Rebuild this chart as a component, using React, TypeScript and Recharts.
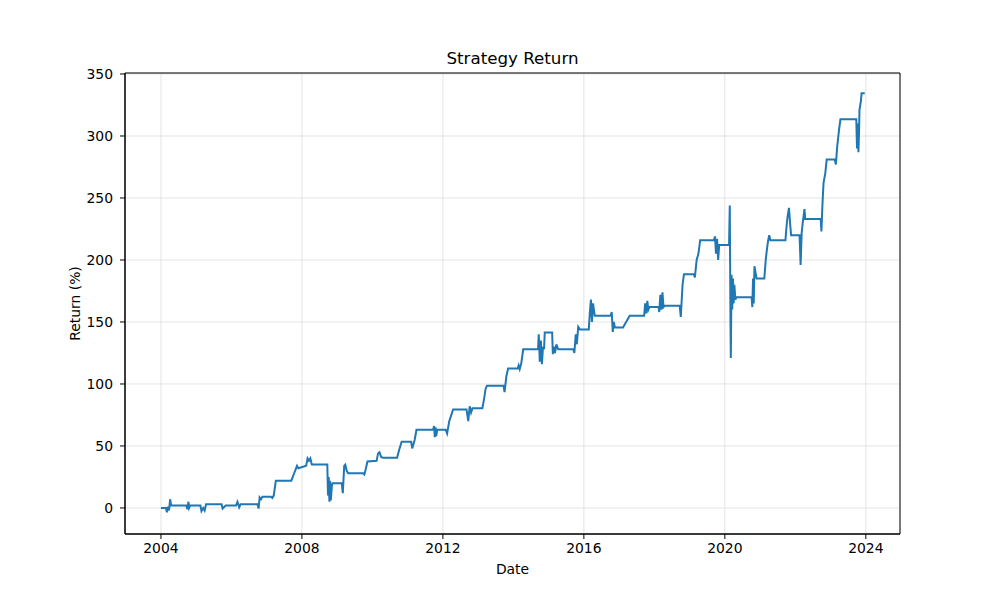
import React from 'react';
import { LineChart, Line, XAxis, YAxis, CartesianGrid, ReferenceArea } from 'recharts';

const years: number[] = [
  2004.00, 2004.14, 2004.17, 2004.20, 2004.23, 2004.26, 2004.29, 2004.72, 2004.75, 2004.78,
  2004.80, 2004.83, 2005.12, 2005.15, 2005.20, 2005.24, 2005.28, 2005.72, 2005.75, 2005.80,
  2005.84, 2006.13, 2006.17, 2006.22, 2006.26, 2006.74, 2006.77, 2006.80, 2006.84, 2006.88,
  2007.12, 2007.16, 2007.20, 2007.26, 2007.70, 2007.74, 2007.78, 2007.82, 2007.86, 2007.90,
  2008.12, 2008.16, 2008.20, 2008.24, 2008.28, 2008.72, 2008.74, 2008.76, 2008.78, 2008.80,
  2008.82, 2008.85, 2008.87, 2009.13, 2009.16, 2009.20, 2009.23, 2009.27, 2009.31, 2009.74,
  2009.77, 2009.80, 2009.86, 2010.12, 2010.16, 2010.20, 2010.25, 2010.31, 2010.70, 2010.76,
  2010.83, 2011.10, 2011.13, 2011.20, 2011.25, 2011.72, 2011.75, 2011.77, 2011.79, 2011.81,
  2011.84, 2012.08, 2012.12, 2012.18, 2012.29, 2012.67, 2012.72, 2012.76, 2012.80, 2012.84,
  2013.12, 2013.15, 2013.18, 2013.21, 2013.25, 2013.72, 2013.75, 2013.80, 2013.85, 2014.12,
  2014.15, 2014.18, 2014.22, 2014.28, 2014.70, 2014.72, 2014.75, 2014.78, 2014.81, 2014.84,
  2014.87, 2014.89, 2015.10, 2015.12, 2015.15, 2015.18, 2015.22, 2015.27, 2015.70, 2015.73,
  2015.77, 2015.80, 2015.84, 2015.89, 2016.14, 2016.17, 2016.20, 2016.23, 2016.26, 2016.31,
  2016.76, 2016.79, 2016.82, 2016.85, 2016.88, 2017.11, 2017.30, 2017.71, 2017.74, 2017.77,
  2017.80, 2017.83, 2017.86, 2018.12, 2018.14, 2018.17, 2018.20, 2018.23, 2018.26, 2018.29,
  2018.72, 2018.75, 2018.80, 2018.84, 2019.12, 2019.15, 2019.20, 2019.25, 2019.30, 2019.69,
  2019.72, 2019.75, 2019.78, 2019.81, 2019.84, 2020.12, 2020.14, 2020.16, 2020.17, 2020.19,
  2020.21, 2020.23, 2020.25, 2020.27, 2020.30, 2020.33, 2020.76, 2020.78, 2020.80, 2020.82,
  2020.84, 2020.87, 2020.90, 2021.12, 2021.16, 2021.20, 2021.23, 2021.26, 2021.29, 2021.72,
  2021.75, 2021.78, 2021.82, 2021.85, 2021.88, 2022.12, 2022.15, 2022.18, 2022.21, 2022.26,
  2022.28, 2022.72, 2022.74, 2022.77, 2022.80, 2022.85, 2022.89, 2023.12, 2023.15, 2023.19,
  2023.24, 2023.28, 2023.73, 2023.75, 2023.77, 2023.79, 2023.81, 2023.82, 2023.86, 2023.88,
  2023.97,
];

const returnPct: number[] = [
  0, 0, -3.5, 1, -2, 7, 2, 2, -1, 5,
  0, 2, 2, -2.5, 0, -2, 3, 3, -0.5, 1,
  2, 2, 5, 0.5, 3, 3, -0.5, 8.5, 7, 9,
  9, 8, 10, 22, 22, 25, 28, 31, 34, 32,
  34, 40, 38, 40, 35, 35, 10, 25, 5, 22,
  6, 18, 20, 20, 12, 34, 35, 30, 28, 28,
  27, 30, 37.5, 38, 44, 45, 41, 40.5, 40.5, 47,
  53.5, 53.5, 48, 55, 63, 63, 66, 57, 65, 58,
  63, 63, 60, 70, 79.5, 79.5, 70, 82, 77, 80.5,
  80.5, 85, 90, 96, 98.5, 98.5, 93.5, 106, 112.5, 112.5,
  115, 112, 116, 128, 128, 140, 118, 135, 116, 130,
  128, 141.5, 141.5, 124, 130, 125, 132, 128, 128, 125,
  140, 132, 146, 144, 144, 158, 168, 150, 165, 155,
  155, 158, 142, 150, 145.5, 145.5, 155, 155, 165, 157,
  167, 160, 162, 162, 158, 172, 160, 174, 162, 163,
  163, 154, 180, 188.5, 188.5, 186, 200, 205, 216, 216,
  219, 205, 217, 200, 212, 212, 244, 150, 121, 188,
  160, 185, 165, 180, 168, 170, 170, 162, 185, 165,
  195, 190, 185, 185, 200, 210, 216, 220, 216, 216,
  227, 235, 242, 230, 220, 220, 196, 222, 230, 241,
  233, 233, 223, 245, 262, 270, 281, 281, 277, 292,
  305, 313.5, 313.5, 290, 310, 287, 305, 321, 328, 334.5,
  334.5,
];

const xTicks: number[] = [2004, 2008, 2012, 2016, 2020, 2024];
const yTicks: number[] = [0, 50, 100, 150, 200, 250, 300, 350];

const X_MIN = 2002.98;
const X_MAX = 2024.97;
const Y_MIN = -21;
const Y_MAX = 350.8;

const data = years.map((d, i) => ({ date: d, ret: returnPct[i] }));

const FONT = '"DejaVu Sans", sans-serif';

export default function App() {
  return (
    <div style={{ position: 'absolute', left: 0, top: 0, width: 1000, height: 600, background: '#fff' }}>
      <LineChart
        width={1000}
        height={600}
        data={data}
        margin={{ top: 73, right: 100, bottom: 36, left: 65 }}
      >
        <CartesianGrid stroke="#dddddd" strokeWidth={0.8} />
        <XAxis
          dataKey="date"
          type="number"
          domain={[X_MIN, X_MAX]}
          ticks={xTicks}
          allowDataOverflow
          height={30}
          tickSize={5}
          tickMargin={4}
          stroke="#000"
          tick={{ fill: '#000', fontSize: 13.9, fontFamily: FONT }}
          tickFormatter={(v: number) => String(Math.round(v))}
        />
        <YAxis
          type="number"
          domain={[Y_MIN, Y_MAX]}
          ticks={yTicks}
          allowDataOverflow
          width={60}
          tickSize={5}
          tickMargin={7}
          stroke="#000"
          tick={{ fill: '#000', fontSize: 13.9, fontFamily: FONT }}
        />
        <Line
          type="linear"
          dataKey="ret"
          stroke="#1f77b4"
          strokeWidth={2}
          dot={false}
          isAnimationActive={false}
        />
        <ReferenceArea
          x1={X_MIN}
          x2={X_MAX}
          y1={Y_MIN}
          y2={Y_MAX}
          fill="none"
          fillOpacity={0}
          stroke="#000"
          strokeWidth={1}
        />
      </LineChart>
      <svg
        width={1000}
        height={600}
        style={{ position: 'absolute', left: 0, top: 0, pointerEvents: 'none' }}
      >
        <text x={512.5} y={64} textAnchor="middle" fontFamily={FONT} fontSize={16.7} fill="#000">
          Strategy Return
        </text>
        <text x={512.5} y={574} textAnchor="middle" fontFamily={FONT} fontSize={13.9} fill="#000">
          Date
        </text>
        <text
          x={0}
          y={0}
          transform="translate(80,303.5) rotate(-90)"
          textAnchor="middle"
          fontFamily={FONT}
          fontSize={13.9}
          fill="#000"
        >
          Return (%)
        </text>
      </svg>
    </div>
  );
}
